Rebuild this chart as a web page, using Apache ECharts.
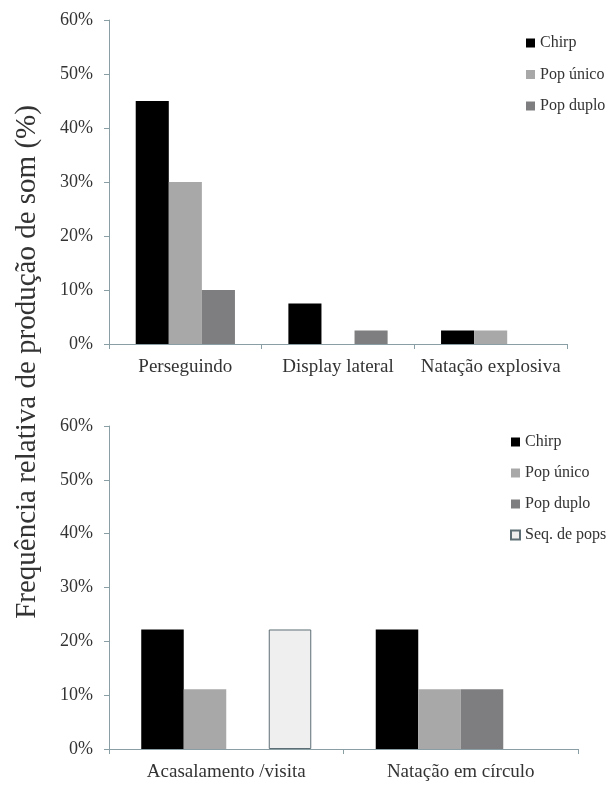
<!DOCTYPE html>
<html>
<head>
<meta charset="utf-8">
<script src="https://cdn.jsdelivr.net/npm/echarts@6/dist/echarts.min.js"></script>
<style>
html,body{margin:0;padding:0;background:#fff;}
#chart{width:610px;height:799px;}
</style>
</head>
<body>
<div id="chart"></div>
<script>
// ---- data ----
const categoriesTop = ['Perseguindo', 'Display lateral', 'Natação explosiva'];
const chirpTop = [45, 7.5, 2.5];
const popUnicoTop = [30, 0, 2.5];
const popDuploTop = [10, 2.5, 0];

const categoriesBottom = ['Acasalamento /visita', 'Natação em círculo'];
const chirpBottom = [22.2, 22.2];
const popUnicoBottom = [11.1, 11.1];
const popDuploBottom = [0, 11.1];
const seqPopsBottom = [22.2, 0];

const seriesNames = ['Chirp', 'Pop único', 'Pop duplo', 'Seq. de pops'];
const yTicks = { min: 0, max: 60, interval: 10 };
const yTitle = 'Frequência relativa de produção de som (%)';

// ---- styles ----
const FONT = '"Liberation Serif", "DejaVu Serif", serif';
const axisColor = '#8a9ea6';
const textColor = '#333';
const colors = { 'Chirp': '#000000', 'Pop único': '#a8a8a8', 'Pop duplo': '#7e7e80', 'Seq. de pops': '#efefef' };

function xAxis(gridIndex, data) {
  return {
    type: 'category', gridIndex, data,
    axisLine: { lineStyle: { color: axisColor, width: 1 } },
    axisTick: { show: true, length: 5, lineStyle: { color: axisColor } },
    axisLabel: { color: textColor, fontFamily: FONT, fontSize: 19, margin: 14, interval: 0, hideOverlap: false }
  };
}
function yAxis(gridIndex) {
  return {
    type: 'value', gridIndex, min: yTicks.min, max: yTicks.max, interval: yTicks.interval,
    axisLine: { show: true, lineStyle: { color: axisColor, width: 1 } },
    axisTick: { show: true, length: 5, lineStyle: { color: axisColor } },
    splitLine: { show: false },
    axisLabel: { color: textColor, fontFamily: FONT, fontSize: 18, margin: 16, formatter: '{value}%' }
  };
}
function bar(name, idx, data, gap) {
  const s = {
    name, type: 'bar', xAxisIndex: idx, yAxisIndex: idx,
    data: data.map(v => (v === 0 ? null : v)),
    barGap: '0%', barCategoryGap: gap,
    itemStyle: { color: colors[name] },
    emphasis: { disabled: true }
  };
  if (name === 'Seq. de pops') {
    s.itemStyle.borderColor = '#5d6e74';
    s.itemStyle.borderWidth = 1;
  }
  return s;
}

const legendText = { color: textColor, fontFamily: FONT, fontSize: 16, lineHeight: 16 };

const option = {
  animation: false,
  backgroundColor: '#fff',
  grid: [
    { left: 109, top: 20, width: 458, height: 324 },
    { left: 109, top: 426, width: 469, height: 323 }
  ],
  xAxis: [xAxis(0, categoriesTop), xAxis(1, categoriesBottom)],
  yAxis: [yAxis(0), yAxis(1)],
  legend: [
    {
      data: seriesNames.slice(0, 3), orient: 'vertical', left: 521, top: 30,
      icon: 'rect', itemWidth: 9, itemHeight: 9, itemGap: 15.5,
      textStyle: legendText, selectedMode: false
    },
    {
      data: seriesNames, orient: 'vertical', left: 505, top: 429,
      icon: 'rect', itemWidth: 9, itemHeight: 9, itemGap: 15,
      textStyle: legendText, selectedMode: false
    }
  ],
  graphic: [{
    type: 'text', rotation: Math.PI / 2, x: 27, y: 362,
    style: { text: yTitle, fill: textColor, font: '29px ' + FONT, align: 'center', verticalAlign: 'middle' }
  }],
  series: [
    bar('Chirp', 0, chirpTop, '35%'),
    bar('Pop único', 0, popUnicoTop, '35%'),
    bar('Pop duplo', 0, popDuploTop, '35%'),
    bar('Chirp', 1, chirpBottom, '27.5%'),
    bar('Pop único', 1, popUnicoBottom, '27.5%'),
    bar('Pop duplo', 1, popDuploBottom, '27.5%'),
    bar('Seq. de pops', 1, seqPopsBottom, '27.5%')
  ]
};

const chart = echarts.init(document.getElementById('chart'), null, { renderer: 'canvas' });
chart.setOption(option);
</script>
</body>
</html>
